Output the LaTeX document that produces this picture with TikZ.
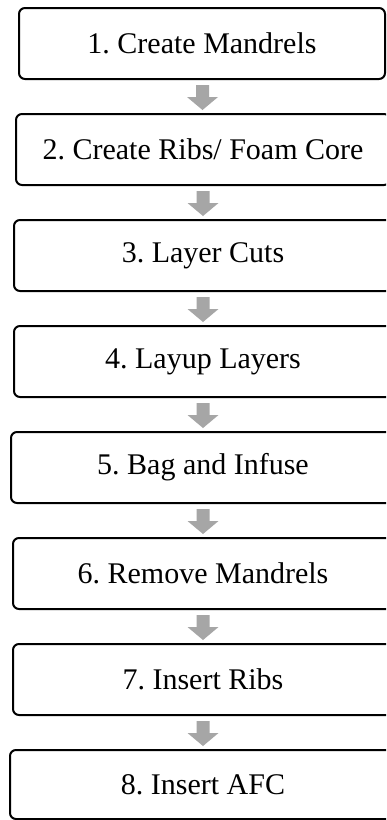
\documentclass[tikz,border=0pt]{standalone}
\usepackage{fontspec}
\setmainfont{Liberation Serif}
\usetikzlibrary{calc}
\definecolor{arrowgray}{HTML}{A6A6A6}
\tikzset{
  stepbox/.style={draw=black, line width=2pt, rounded corners=6pt, fill=white,
    minimum height=71pt, inner sep=0pt, font=\fontsize{30}{36}\selectfont},
  downarrow/.style={fill=arrowgray, draw=none}
}
\frenchspacing
\begin{document}
\begin{tikzpicture}[x=1pt,y=-1pt]
\clip (0,0) rectangle (386,820);
\fill[white] (0,0) rectangle (386,820);
\node[stepbox, minimum width=366pt] (b1) at (202,43.5) {1. Create Mandrels};
\node[stepbox, minimum width=374pt] (b2) at (203,149.5) {2. Create Ribs/ Foam Core};
\node[stepbox, minimum width=378pt] (b3) at (203,255.5) {3. Layer Cuts};
\node[stepbox, minimum width=378pt] (b4) at (203,361.5) {4. Layup Layers};
\node[stepbox, minimum width=384pt] (b5) at (203,467.5) {5. Bag and Infuse};
\node[stepbox, minimum width=380pt] (b6) at (203,573.5) {6. Remove Mandrels};
\node[stepbox, minimum width=380pt] (b7) at (203,679.5) {7. Insert Ribs};
\node[stepbox, minimum width=386pt, minimum height=69pt] (b8) at (203,784.5) {8. Insert AFC};
\foreach \i/\j in {1/2,2/3,3/4,4/5,5/6,6/7,7/8}{
  \coordinate (a\i) at ($(b\i.south)!0.5!(b\j.north)$);
  \fill[downarrow] ($(a\i)+(-6.5,-11.5)$) -- ($(a\i)+(6.5,-11.5)$) -- ($(a\i)+(6.5,0.5)$)
    -- ($(a\i)+(15.5,0.5)$) -- ($(a\i)+(0,13.5)$) -- ($(a\i)+(-15.5,0.5)$)
    -- ($(a\i)+(-6.5,0.5)$) -- cycle;
}
\end{tikzpicture}
\end{document}
